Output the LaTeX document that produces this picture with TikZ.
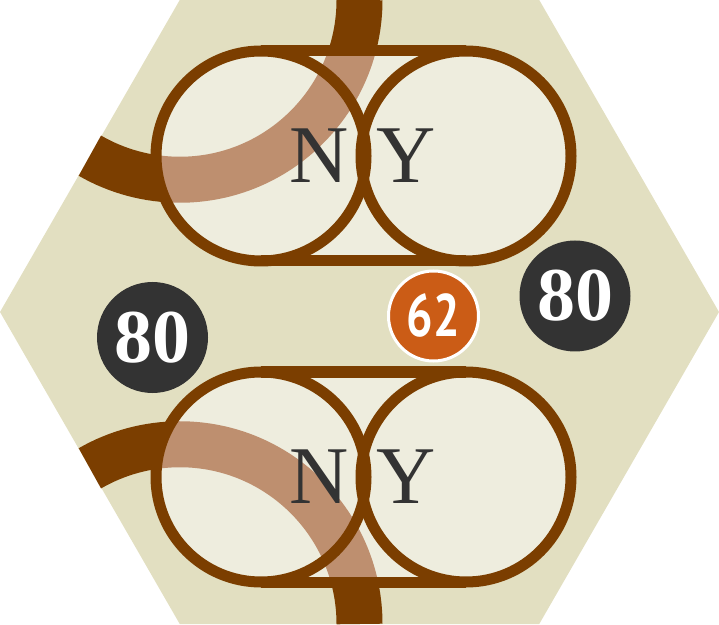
\documentclass[tikz,border=0pt]{standalone}
\usepackage{fontspec}
\setmainfont{Liberation Serif}
\newfontfamily\valuefont[FakeStretch=0.78]{PT Sans}
\definecolor{hexbg}{RGB}{226,223,193}
\definecolor{tilefill}{RGB}{238,237,222}
\definecolor{trackbrown}{RGB}{123,62,0}
\definecolor{trackfaint}{RGB}{190,143,111}
\definecolor{revdark}{RGB}{51,51,51}
\definecolor{valueorange}{RGB}{203,92,22}

\begin{document}
\begin{tikzpicture}[x=1pt, y=1pt,
  track/.style={draw=trackbrown, line width=46pt},
  ring/.style={draw=trackbrown, line width=11pt},
  cityname/.style={inner sep=0pt, text=revdark, font=\fontsize{82}{82}\selectfont},
  revenue/.style={circle, fill=revdark, text=white, inner sep=0pt,
                  minimum size=111pt, font=\fontsize{76}{76}\selectfont\bfseries},
  cost/.style={circle, fill=valueorange, draw=white, line width=3pt, text=white,
               inner sep=0pt, minimum size=90pt, font=\fontsize{60}{60}\valuefont\bfseries}
]
  \useasboundingbox (0,0) rectangle (719,624);

  % hex and tracks
  \fill[hexbg] (0,312) -- (179.75,624) -- (539.25,624) -- (719,312)
    -- (539.25,0) -- (179.75,0) -- cycle;
  \draw[track] (359.5,624) arc[start angle=0, end angle=-120, radius=179.75];
  \draw[track] (359.5,0) arc[start angle=0, end angle=120, radius=179.75];

  % the two city tiles
  \foreach \ty in {468,147} {
    \fill[tilefill] (261,\ty+105) -- (466,\ty+105)
      arc[start angle=90, end angle=-90, radius=105] -- (261,\ty-105)
      arc[start angle=270, end angle=90, radius=105] -- cycle;
    \begin{scope}
      \clip (261,\ty+105) -- (466,\ty+105)
        arc[start angle=90, end angle=-90, radius=105] -- (261,\ty-105)
        arc[start angle=270, end angle=90, radius=105] -- cycle;
      \draw[track, draw=trackfaint] (359.5,624) arc[start angle=0, end angle=-120, radius=179.75];
      \draw[track, draw=trackfaint] (359.5,0) arc[start angle=0, end angle=120, radius=179.75];
    \end{scope}
    \draw[ring] (261,\ty) circle[radius=105];
    \draw[ring] (466,\ty) circle[radius=105];
    \draw[ring] (261,\ty+105) -- (466,\ty+105);
    \draw[ring] (261,\ty-105) -- (466,\ty-105);
  }

  \node[cityname] (nyTop) at (363,468) {N\kern28pt Y};
  \node[cityname] (nyBottom) at (363,147) {N\kern28pt Y};

  \node[revenue] (revLeft) at (152.5,286.5) {80};
  \node[revenue] (revRight) at (575,328) {80};
  \node[cost] (costMid) at (433.5,308) {62};
\end{tikzpicture}
\end{document}
